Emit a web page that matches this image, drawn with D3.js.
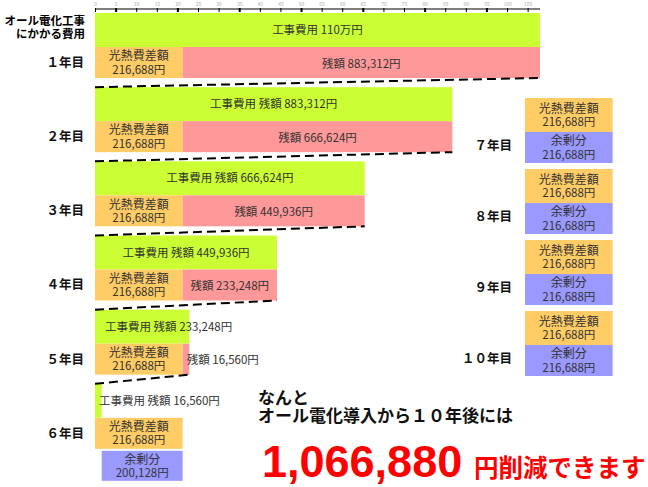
<!DOCTYPE html>
<html>
<head>
<meta charset="utf-8">
<script src="https://cdn.jsdelivr.net/npm/d3@7"></script>
<style>
body { margin: 0; background: #fff; }
text { font-family: "Noto Sans CJK JP", sans-serif; }
</style>
</head>
<body>
<script>
// years 1-6: construction cost left at start of year and after the saving
const yearLabels = ["１年目", "２年目", "３年目", "４年目", "５年目", "６年目"];
const costBefore = [1100000, 883312, 666624, 449936, 233248, 16560];
const costAfter = [883312, 666624, 449936, 233248, 16560, 0];
const costText = ["工事費用 110万円", "工事費用 残額 883,312円", "工事費用 残額 666,624円",
                  "工事費用 残額 449,936円", "工事費用 残額 233,248円", "工事費用 残額 16,560円"];
const restText = ["残額 883,312円", "残額 666,624円", "残額 449,936円", "残額 233,248円", "残額 16,560円", ""];
const saving = 216688;
const savingText = "216,688円";

// years 6-10: surplus
const surplusYear6 = 200128;
const surplusYear6Text = "200,128円";
const laterYears = ["７年目", "８年目", "９年目", "１０年目"];
const laterSurplus = [216688, 216688, 216688, 216688];
const laterSurplusText = ["216,688円", "216,688円", "216,688円", "216,688円"];

const rulerTicks = [0, 5, 10, 15, 20, 25, 30, 35, 40, 45, 50, 55, 60, 65, 70, 75, 80, 85, 90, 95, 100, 105];
const totalSaving = "1,066,880";

const width = 648, height = 487;
const colGreen = "#ccff33", colOrange = "#ffcc66", colPink = "#ff9999", colPurple = "#9999ff";
const txt = "#333";

const svg = d3.select("body").append("svg")
    .attr("width", width)
    .attr("height", height);

// scales
const x = d3.scaleLinear().domain([0, 1100000]).range([95, 540]);
const xr = d3.scaleLinear().domain([0, 1100000]).range([525, 970]);
const ruler = d3.scaleLinear().domain([0, 108]).range([95, 540]);
const yBand = d3.scaleBand().domain(yearLabels).range([13, 458]);
const yRight = d3.scaleBand().domain(laterYears).range([98, 382]);

const greenH = 34, rowH = 31;

// ruler on top
const rulerG = svg.append("g").attr("transform", "translate(0,9)")
    .call(d3.axisBottom(ruler).tickValues(rulerTicks).tickSize(3).tickSizeOuter(0));
rulerG.select(".domain").attr("d", `M${ruler(0)},0H540`).attr("stroke", "#000");
rulerG.selectAll(".tick line").attr("y1", -1)
    .attr("stroke-width", d => (d % 15 === 5 ? 2 : 1));
rulerG.selectAll(".tick text").attr("y", -3).attr("dy", 0)
    .style("font-size", "5px").attr("fill", "#aaa");

// header
svg.append("text").attr("x", 85).attr("y", 25).attr("text-anchor", "end")
    .style("font-size", "11.5px").style("font-weight", "bold").text("オール電化工事");
svg.append("text").attr("x", 85).attr("y", 38).attr("text-anchor", "end")
    .style("font-size", "11.5px").style("font-weight", "bold").text("にかかる費用");

// place a label inside a bar: centred if it fits, otherwise from the left edge
function barLabel(g, x0, x1, cy, str) {
    const t = g.append("text").attr("y", cy).attr("dy", "0.35em")
        .style("font-size", "11.5px").attr("fill", txt).text(str);
    const w = t.node().getComputedTextLength();
    const bw = x1 - x0;
    if (w + 10 < bw) {
        t.attr("x", (x0 + x1) / 2).attr("text-anchor", "middle");
    } else {
        t.attr("x", x0 + Math.min(10, bw * 0.6)).attr("text-anchor", "start");
    }
}

function twoLine(g, cx, cy, l1, l2) {
    g.append("text").attr("x", cx).attr("y", cy - 6.5).attr("dy", "0.35em")
        .attr("text-anchor", "middle").style("font-size", "12px").attr("fill", txt).text(l1);
    g.append("text").attr("x", cx).attr("y", cy + 7).attr("dy", "0.35em")
        .attr("text-anchor", "middle").style("font-size", "11.5px").attr("fill", txt).text(l2);
}

const years = svg.append("g");

yearLabels.forEach((label, i) => {
    const top = yBand(label);
    const g = years.append("g");

    // construction cost bar
    g.append("rect")
        .attr("x", x(0)).attr("y", top)
        .attr("width", x(costBefore[i]) - x(0)).attr("height", greenH)
        .attr("fill", colGreen);

    // saving bar
    g.append("rect")
        .attr("x", x(0)).attr("y", top + greenH)
        .attr("width", x(saving) - x(0)).attr("height", rowH)
        .attr("fill", colOrange);

    // remainder bar
    if (costAfter[i] > 0) {
        g.append("rect")
            .attr("x", x(saving)).attr("y", top + greenH)
            .attr("width", x(costBefore[i]) - x(saving)).attr("height", rowH)
            .attr("fill", colPink);
    }

    barLabel(g, x(0), x(costBefore[i]), top + greenH / 2, costText[i]);
    twoLine(g, (x(0) + x(saving)) / 2, top + greenH + rowH / 2, "光熱費差額", savingText);
    if (costAfter[i] > 0) {
        barLabel(g, x(saving), x(costBefore[i]), top + greenH + rowH / 2 + 1, restText[i]);
    }

    // year label
    g.append("text").attr("x", 84).attr("y", top + greenH + rowH / 2).attr("dy", "0.35em")
        .attr("text-anchor", "end").style("font-size", "12.5px").style("font-weight", "bold")
        .attr("fill", "#111").text(label);

    // connector from the end of the previous remainder
    if (i > 0) {
        const prevTop = yBand(yearLabels[i - 1]);
        g.append("line")
            .attr("x1", x(0)).attr("y1", top)
            .attr("x2", x(costBefore[i - 1])).attr("y2", prevTop + greenH + rowH)
            .attr("stroke", "#000").attr("stroke-width", 2)
            .attr("stroke-dasharray", "9,5");
    }
});

// year 6 surplus
const top6 = yBand(yearLabels[5]);
svg.append("rect")
    .attr("x", x(costBefore[5])).attr("y", top6 + greenH + rowH + 2)
    .attr("width", x(surplusYear6) - x(0)).attr("height", 30)
    .attr("fill", colPurple);
twoLine(svg, (x(costBefore[5]) + x(saving)) / 2, top6 + greenH + rowH + 17, "余剰分", surplusYear6Text);

// years 7-10
const orH = 34, puH = 31;
laterYears.forEach((label, i) => {
    const top = yRight(label);
    svg.append("rect")
        .attr("x", xr(0)).attr("y", top)
        .attr("width", xr(saving) - xr(0)).attr("height", orH)
        .attr("fill", colOrange);
    svg.append("rect")
        .attr("x", xr(0)).attr("y", top + orH)
        .attr("width", xr(laterSurplus[i]) - xr(0)).attr("height", puH)
        .attr("fill", colPurple);
    twoLine(svg, (xr(0) + xr(saving)) / 2, top + orH / 2, "光熱費差額", savingText);
    twoLine(svg, (xr(0) + xr(laterSurplus[i])) / 2, top + orH + puH / 2, "余剰分", laterSurplusText[i]);
    svg.append("text").attr("x", 512).attr("y", top + orH + puH / 2 - 2).attr("dy", "0.35em")
        .attr("text-anchor", "end").style("font-size", "12.5px").style("font-weight", "bold")
        .attr("fill", "#111").text(label);
});

// conclusion
svg.append("text").attr("x", 258).attr("y", 404)
    .style("font-size", "17px").style("font-weight", "bold").attr("fill", "#111").text("なんと");
svg.append("text").attr("x", 258).attr("y", 422)
    .style("font-size", "17px").style("font-weight", "bold").attr("fill", "#111")
    .text("オール電化導入から１０年後には");
svg.append("text").attr("x", 262).attr("y", 477)
    .style("font-family", "'Liberation Sans', Arial, sans-serif")
    .style("font-size", "45px").style("font-weight", "bold").attr("fill", "#ff0000")
    .text(totalSaving);
svg.append("text").attr("x", 474).attr("y", 477)
    .style("font-size", "24.5px").style("font-weight", "bold").attr("fill", "#ff0000")
    .text("円削減できます");
</script>
</body>
</html>
